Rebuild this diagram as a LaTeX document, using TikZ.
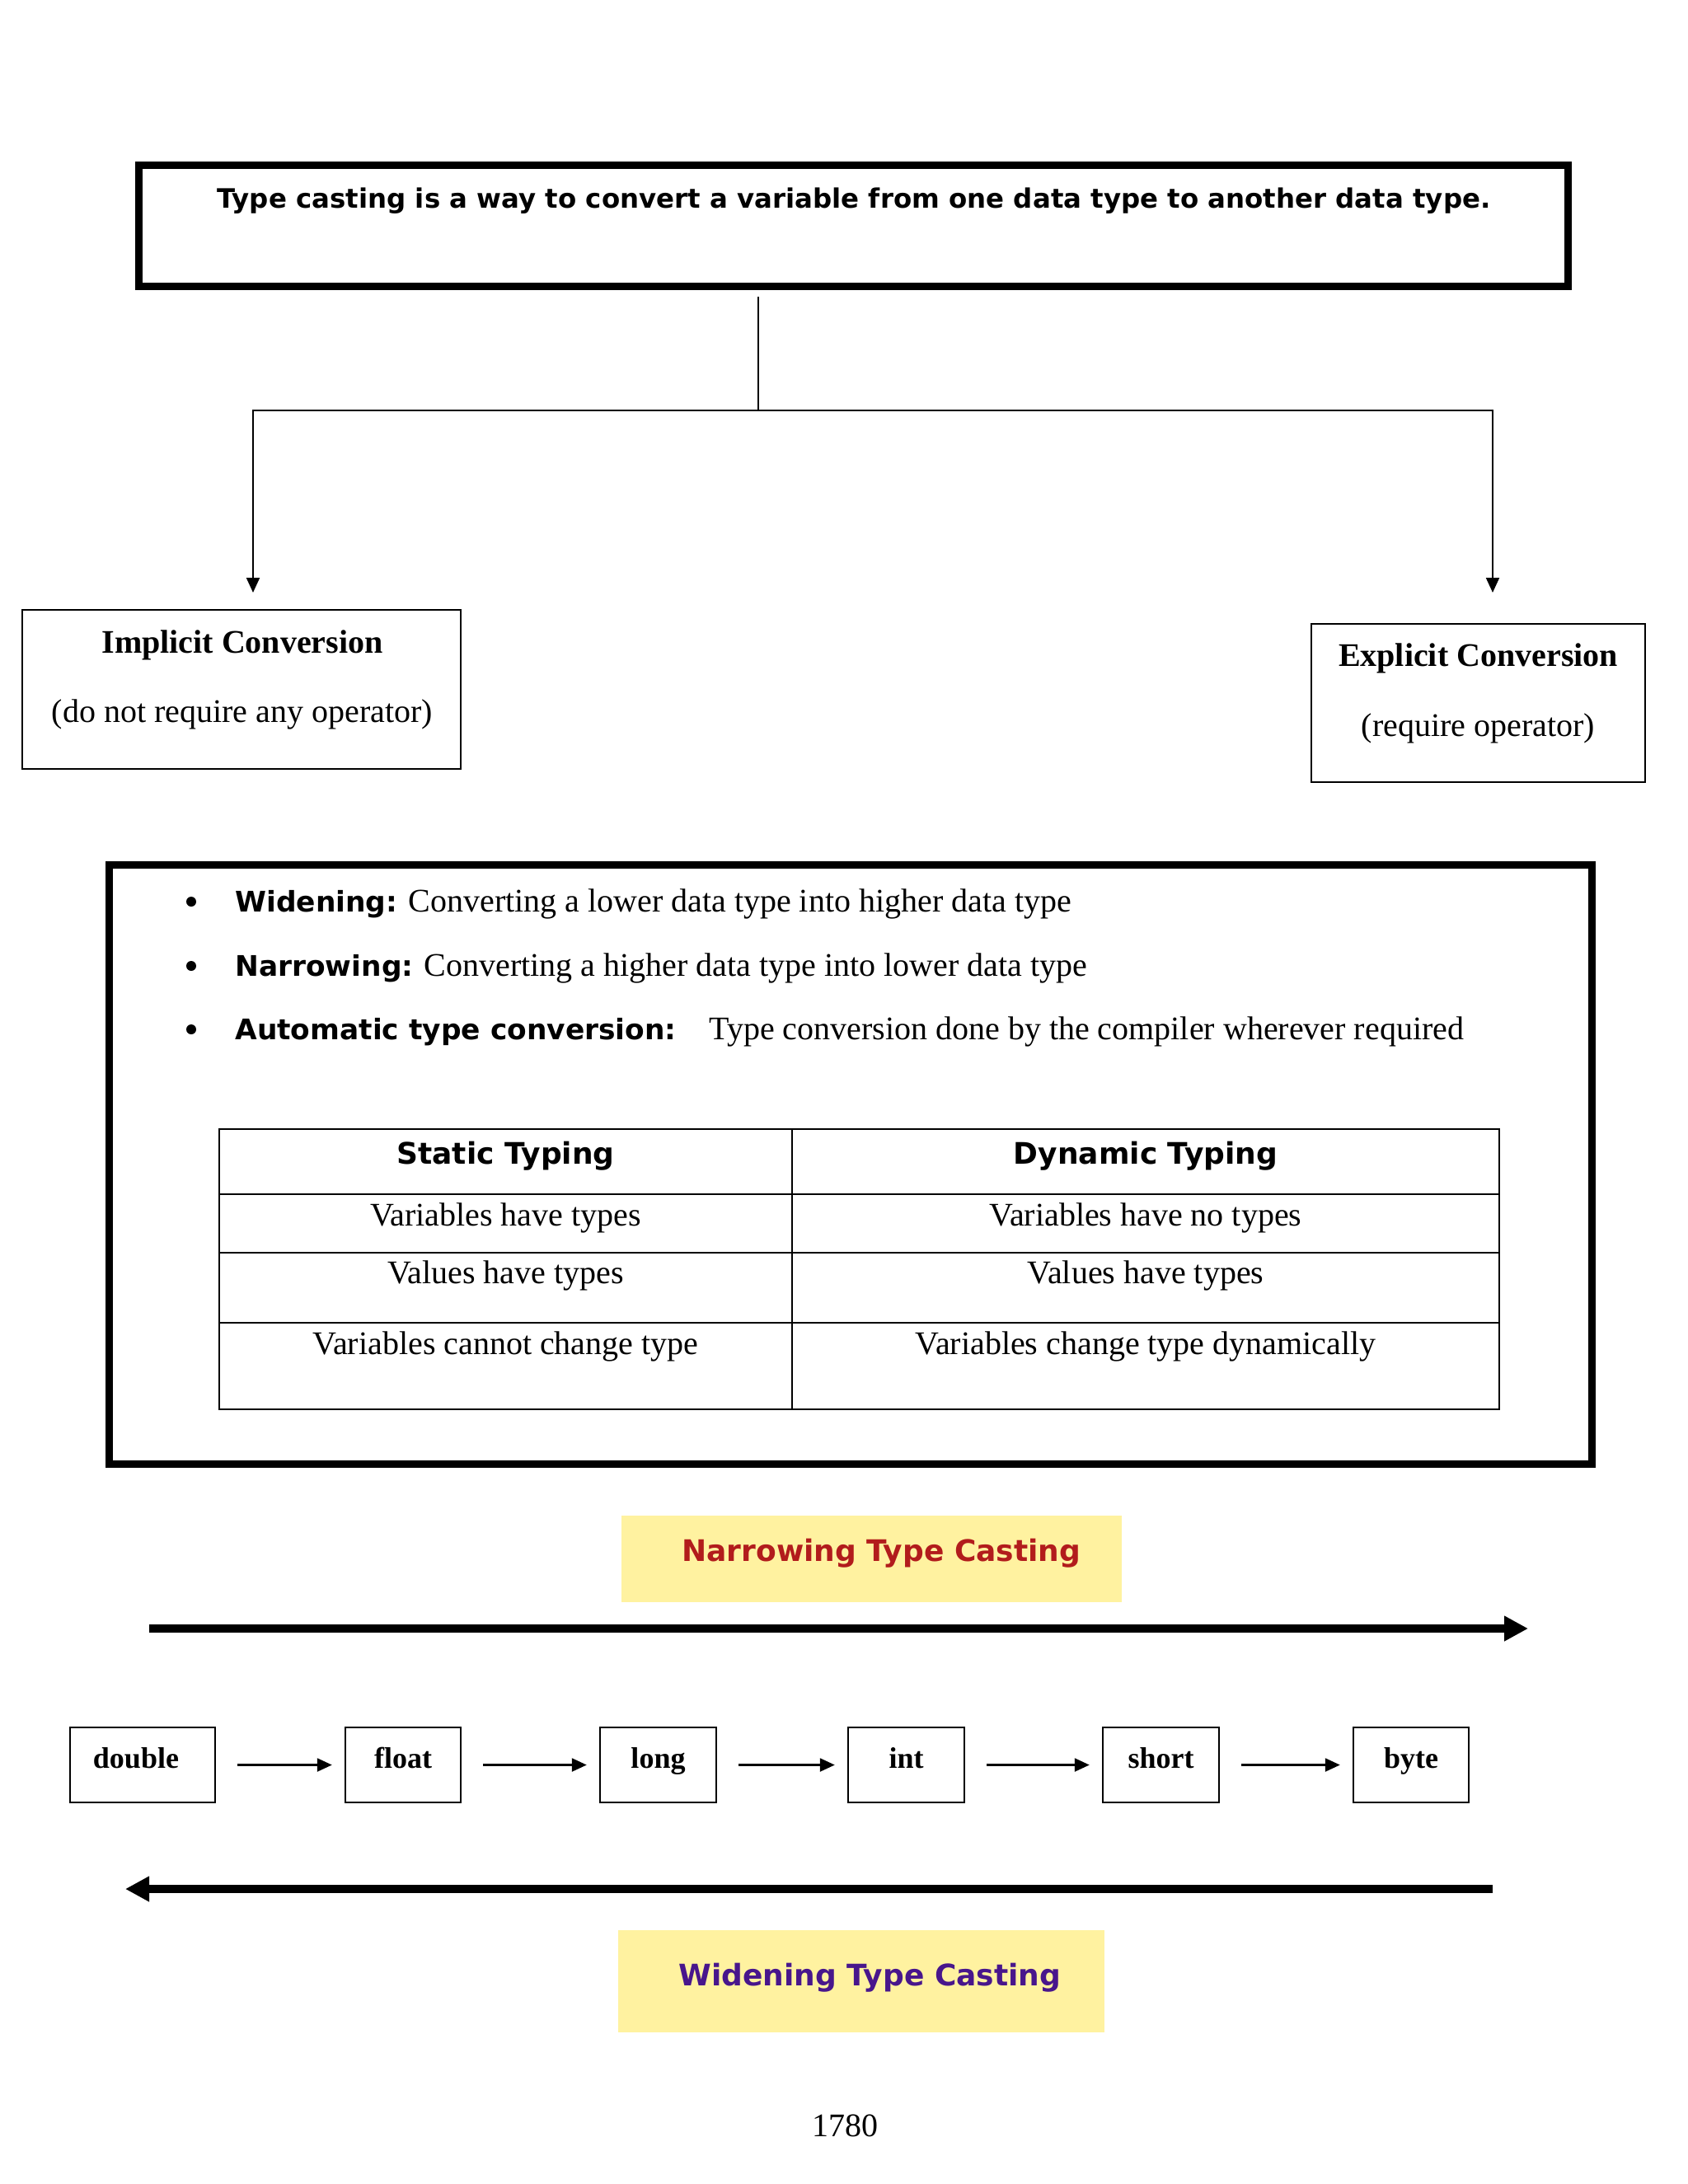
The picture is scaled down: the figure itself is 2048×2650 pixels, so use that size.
\documentclass[tikz,border=0pt]{standalone}
\usepackage{fontspec}
\setmainfont{Liberation Serif}
\newfontfamily\dvsans{DejaVu Sans}
\usetikzlibrary{arrows.meta}
\definecolor{labelyellow}{RGB}{255,242,160}
\definecolor{narrowred}{RGB}{178,28,28}
\definecolor{widepurple}{RGB}{72,22,140}
\tikzset{
  serif20/.style={inner sep=0pt, font=\fontsize{20}{24}\selectfont},
  serifbold20/.style={inner sep=0pt, font=\fontsize{20}{24}\selectfont\bfseries},
  sansbold/.style={inner sep=0pt, font=\dvsans\bfseries\fontsize{#1}{#1}\selectfont},
  thickbox/.style={draw, line width=4.5pt, inner sep=0pt},
  convbox/.style={draw, line width=1.2pt, inner sep=0pt},
  typebox/.style={draw, line width=1.2pt, inner sep=0pt, minimum height=45.5pt,
    text height=10pt, text depth=6.5pt, font=\fontsize{18}{20}\selectfont\bfseries},
  bulletdot/.style={circle, fill, inner sep=0pt, minimum size=6pt},
  thinline/.style={line width=1pt},
  smallarrow/.style={line width=1pt, -{Triangle[length=9pt,width=8pt]}},
  chainarrow/.style={line width=1.2pt, -{Triangle[length=9pt,width=8pt]},
    shorten <=13pt, shorten >=7.5pt},
  bigarrow/.style={line width=5pt, -{Triangle[length=14.5pt,width=14.5pt]}},
  labelrect/.style={fill=labelyellow, draw=none, inner sep=0pt},
  tableline/.style={line width=0.7pt},
}
\newcommand{\bsans}[1]{{\dvsans\bfseries\fontsize{17.2}{20}\selectfont #1}}
\begin{document}
\begin{tikzpicture}[x=0.5pt,y=-0.5pt]
\useasboundingbox (0,0) rectangle (2048,2650);
\fill[white] (0,0) rectangle (2048,2650);

% top definition box
\node[thickbox, minimum width=867pt, minimum height=73.5pt] (topbox) at (1035,274) {};
\node[sansbold=16.2, anchor=base] (deftext) at (1036,252)
  {Type casting is a way to convert a variable from one data type to another data type.};

% tree connectors
\coordinate (split) at (920,498);
\coordinate (implin) at (307,719);
\coordinate (explin) at (1811,719);
\draw[thinline, shorten <=4pt] (topbox.south -| split) -- (split);
\draw[smallarrow] (split) -| (implin);
\draw[smallarrow] (split) -| (explin);

% implicit / explicit boxes
\node[convbox, minimum width=266pt, minimum height=96.5pt] (implicit) at (293,836.5) {};
\node[serifbold20, anchor=base] (impltitle) at (294,792) {Implicit Conversion};
\node[serif20, anchor=base] (impltext) at (294,876) {(do not require any operator)};

\node[convbox, minimum width=202.5pt, minimum height=96pt] (explicit) at (1793.5,853) {};
\node[serifbold20, anchor=base] (expltitle) at (1793.5,808) {Explicit Conversion};
\node[serif20, anchor=base] (expltext) at (1793.5,893) {(require operator)};

% big box with bullets and table
\node[thickbox, minimum width=899.5pt, minimum height=363.5pt] (bigbox) at (1031.5,1412.5) {};

\node[bulletdot] (b1) at (232,1094) {};
\node[serif20, anchor=base west] (l1) at (285,1106)
  {\bsans{Widening:} Converting a lower data type into higher data type};
\node[bulletdot] (b2) at (232,1172) {};
\node[serif20, anchor=base west] (l2) at (285,1184)
  {\bsans{Narrowing:} Converting a higher data type into lower data type};
\node[bulletdot] (b3) at (232,1249) {};
\node[serif20, anchor=base west] (l3) at (285,1261)
  {\bsans{Automatic type conversion:}\hspace{20pt}Type conversion done by the compiler wherever required};

% table
\draw[tableline] (266,1370) rectangle (1819,1710);
\draw[tableline] (961,1370) -- (961,1710);
\draw[tableline] (266,1449) -- (1819,1449);
\draw[tableline] (266,1520) -- (1819,1520);
\draw[tableline] (266,1605) -- (1819,1605);

\node[sansbold=18, anchor=base] (h1) at (613.5,1412) {Static Typing};
\node[sansbold=18, anchor=base] (h2) at (1390,1412) {Dynamic Typing};
\node[serif20, anchor=base] (r1a) at (613.5,1487) {Variables have types};
\node[serif20, anchor=base] (r1b) at (1390,1487) {Variables have no types};
\node[serif20, anchor=base] (r2a) at (613.5,1557) {Values have types};
\node[serif20, anchor=base] (r2b) at (1390,1557) {Values have types};
\node[serif20, anchor=base] (r3a) at (613.5,1643) {Variables cannot change type};
\node[serif20, anchor=base] (r3b) at (1390,1643) {Variables change type dynamically};

% narrowing label and arrow
\node[labelrect, minimum width=303.5pt, minimum height=52.5pt] (narrowlabel) at (1057.5,1891.5) {};
\node[sansbold=18, anchor=base west, text=narrowred] (narrowtext) at (827,1894) {Narrowing Type Casting};
\coordinate (nstart) at (181,1976);
\coordinate (nend) at (1854,1976);
\draw[bigarrow] (nstart) -- (nend);

% type chain
\node[typebox, minimum width=88pt] (double) at (173,2141.5) {\hspace*{-8pt}double};
\node[typebox, minimum width=70pt] (float) at (489,2141.5) {float};
\node[typebox, minimum width=70.5pt] (long) at (798.5,2141.5) {long};
\node[typebox, minimum width=70.5pt] (int) at (1099.5,2141.5) {int};
\node[typebox, minimum width=70.5pt] (short) at (1408.5,2141.5) {short};
\node[typebox, minimum width=70pt] (byte) at (1712,2141.5) {byte};
\draw[chainarrow] (double) -- (float);
\draw[chainarrow] (float) -- (long);
\draw[chainarrow] (long) -- (int);
\draw[chainarrow] (int) -- (short);
\draw[chainarrow] (short) -- (byte);

% widening arrow and label
\coordinate (wstart) at (1811,2292);
\coordinate (wend) at (152,2292);
\draw[bigarrow] (wstart) -- (wend);
\node[labelrect, minimum width=295pt, minimum height=62pt] (widelabel) at (1045,2404) {};
\node[sansbold=18, anchor=base west, text=widepurple] (widetext) at (823,2409) {Widening Type Casting};

% page number
\node[serif20, anchor=base] (pagenum) at (1025,2592) {1780};
\end{tikzpicture}
\end{document}
